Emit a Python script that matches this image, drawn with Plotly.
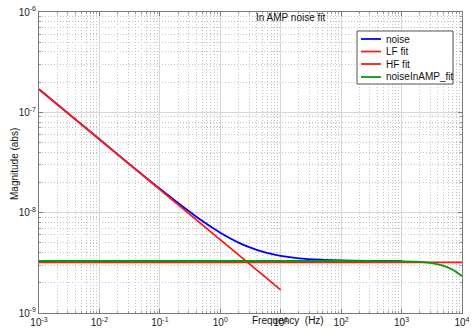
import plotly.graph_objects as go

# ---- data -------------------------------------------------------------
freq_noise = [1e-3, 3e-3, 1e-2, 3e-2, 0.1, 0.2, 0.3, 0.5, 0.7, 1, 1.5, 2, 3, 5, 7,
              10, 20, 50, 100, 300, 1000]
mag_noise = [1.70e-7, 9.83e-8, 5.39e-8, 3.12e-8, 1.73e-8, 1.25e-8, 1.04e-8, 8.29e-9,
             7.23e-9, 6.31e-9, 5.49e-9, 5.03e-9, 4.53e-9, 4.08e-9, 3.88e-9,
             3.71e-9, 3.51e-9, 3.39e-9, 3.34e-9, 3.31e-9, 3.30e-9]

freq_lf = [1e-3, 10]
mag_lf = [1.70e-7, 1.70e-9]

freq_hf = [1e-3, 1e4]
mag_hf = [3.20e-9, 3.20e-9]

freq_amp = [1e-3, 1e-1, 10, 100, 500, 1000, 2000, 3000, 5000, 7000, 1e4]
mag_amp = [3.30e-9, 3.30e-9, 3.30e-9, 3.30e-9, 3.29e-9, 3.28e-9, 3.24e-9,
           3.16e-9, 2.95e-9, 2.70e-9, 2.33e-9]

series_names = ["noise", "LF fit", "HF fit", "noiseInAMP_fit"]
series_colors = ["#0000ff", "#ff1a1a", "#ff1a1a", "#079a07"]

x_tickvals = [1e-3, 1e-2, 1e-1, 1e0, 1e1, 1e2, 1e3, 1e4]
x_ticktext = ["10<sup>-3</sup>", "10<sup>-2</sup>", "10<sup>-1</sup>", "10<sup>0</sup>",
              "10<sup>1</sup>", "10<sup>2</sup>", "10<sup>3</sup>", "10<sup>4</sup>"]
y_tickvals = [1e-9, 1e-8, 1e-7, 1e-6]
y_ticktext = ["10<sup>-9</sup>", "10<sup>-8</sup>", "10<sup>-7</sup>", "10<sup>-6</sup>"]

title_text = "In AMP noise fit"
x_title = "Frequency  (Hz)"
y_title = "Magnitude (abs)"

# ---- figure -----------------------------------------------------------
W, H = 475, 328
L, R, T, B = 39, 13, 12, 15
FONT = "Liberation Sans, Arial, sans-serif"


def px(xp):
    return (xp - L) / (W - L - R)


def py(yp):
    return (H - B - yp) / (H - T - B)


def minor_positions(decades):
    # 2..9 within each decade, for the dotted minor grid
    return [m * d for d in decades[:-1] for m in range(2, 10)]


fig = go.Figure()
xs = [freq_noise, freq_lf, freq_hf, freq_amp]
ys = [mag_noise, mag_lf, mag_hf, mag_amp]
for i in range(4):
    fig.add_trace(go.Scatter(
        x=xs[i], y=ys[i], mode="lines", name=series_names[i],
        line=dict(color=series_colors[i], width=1.8,
                  shape="spline" if i in (0, 3) else "linear"),
        showlegend=False))

axis_common = dict(
    type="log", showline=True, mirror="ticks", linecolor="#7a7a7a", linewidth=1,
    ticks="inside", ticklen=4, tickcolor="#7a7a7a",
    showgrid=True, gridcolor="#d6d6d6", gridwidth=1,
    tickfont=dict(family=FONT, size=10, color="#222"),
    zeroline=False, automargin=False,
)

minor_common = dict(ticks="inside", ticklen=2, tickcolor="#9a9a9a", showgrid=True,
                    gridcolor="#c4c4c4", griddash="1px,2px", gridwidth=1)

fig.update_layout(
    width=W, height=H,
    margin=dict(l=L, r=R, t=T, b=B),
    paper_bgcolor="white", plot_bgcolor="white",
    showlegend=False,
    xaxis=dict(axis_common, range=[-3, 4], tickvals=x_tickvals, ticktext=x_ticktext,
               minor=dict(minor_common, tickvals=minor_positions(x_tickvals))),
    yaxis=dict(axis_common, range=[-9, -6], tickvals=y_tickvals, ticktext=y_ticktext,
               minor=dict(minor_common, tickvals=minor_positions(y_tickvals))),
)

ann_font = dict(family=FONT, size=10, color="#111")
fig.add_annotation(x=px(291), y=py(17), xref="paper", yref="paper", text=title_text,
                   showarrow=False, font=ann_font, xanchor="center", yanchor="middle")
fig.add_annotation(x=px(288), y=py(320), xref="paper", yref="paper", text=x_title,
                   showarrow=False, font=ann_font, xanchor="center", yanchor="middle")
fig.add_annotation(x=px(14), y=py(164), xref="paper", yref="paper", text=y_title,
                   showarrow=False, font=ann_font, textangle=-90,
                   xanchor="center", yanchor="middle")

# legend box drawn in paper coordinates
fig.add_shape(type="rect", xref="paper", yref="paper",
              x0=px(357), x1=px(453), y0=py(31), y1=py(84),
              line=dict(color="#555", width=1), fillcolor="white", layer="above")
legend_rows = [39, 51.5, 64, 77]
for name, color, yr in zip(series_names, series_colors, legend_rows):
    fig.add_shape(type="line", xref="paper", yref="paper",
                  x0=px(361), x1=px(381), y0=py(yr), y1=py(yr),
                  line=dict(color=color, width=1.8), layer="above")
    fig.add_annotation(x=px(384), y=py(yr), xref="paper", yref="paper", text=name,
                       showarrow=False, font=ann_font, xanchor="left", yanchor="middle")

fig.write_html("out.html")
